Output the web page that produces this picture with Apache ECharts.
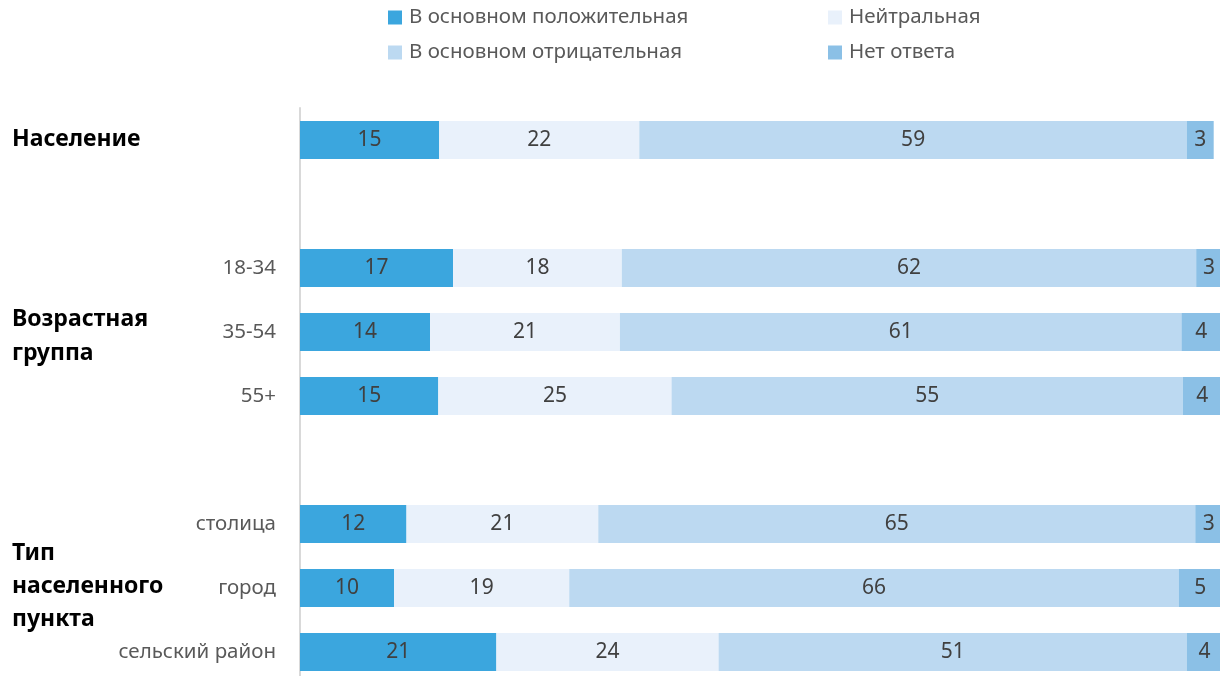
<!DOCTYPE html>
<html>
<head>
<meta charset="utf-8">
<script src="https://cdn.jsdelivr.net/npm/echarts@6/dist/echarts.min.js"></script>
<style>
  html, body { margin: 0; padding: 0; background: #fff; }
  #chart { width: 1220px; height: 676px; }
</style>
</head>
<body>
<div id="chart"></div>
<script>
// строки графика (пустые строки - разделители групп)
const rows = ['Население', ' ', '18-34', '35-54', '55+', '  ', 'столица', 'город', 'сельский район'];
const seriesNames = ['В основном положительная', 'Нейтральная', 'В основном отрицательная', 'Нет ответа'];

// значения в %, оценены по длине полос
const positive = [15.1, null, 16.6, 14.1, 15.0, null, 11.55, 10.2, 21.3];
const neutral  = [21.7, null, 18.3, 20.6, 25.3, null, 20.8, 19.0, 24.1];
const negative = [59.4, null, 62.3, 60.9, 55.45, null, 64.75, 66.1, 50.8];
const noAnswer = [2.9, null, 2.8, 4.3, 4.2, null, 3.0, 4.8, 3.9];

const colors = ['#3ba6de', '#e9f1fb', '#bcd9f1', '#8bc0e6'];

const chart = echarts.init(document.getElementById('chart'));
const font = '"Noto Sans", sans-serif';

const makeSeries = (name, data, i) => ({
  name: name,
  type: 'bar',
  stack: 'total',
  barWidth: 38,
  data: data,
  itemStyle: { color: colors[i] },
  label: {
    show: true,
    position: 'inside',
    color: '#404040',
    fontSize: 21,
    fontFamily: font,
    formatter: p => Math.round(p.value)
  },
  emphasis: { disabled: true }
});

const legendStyle = {
  orient: 'vertical',
  top: 7,
  padding: 0,
  itemGap: 14,
  itemWidth: 14,
  itemHeight: 14,
  icon: 'rect',
  textStyle: { color: '#595959', fontSize: 20.5, fontFamily: font, lineHeight: 21, padding: [0, 0, 0, 2] }
};

const option = {
  animation: false,
  legend: [
    Object.assign({ data: [seriesNames[0], seriesNames[2]], left: 388 }, legendStyle),
    Object.assign({ data: [seriesNames[1], seriesNames[3]], left: 828 }, legendStyle)
  ],
  grid: { left: 300, top: 108, width: 922, height: 576, outerBoundsMode: 'none' },
  xAxis: {
    type: 'value',
    min: 0,
    max: 100,
    show: false
  },
  yAxis: {
    type: 'category',
    inverse: true,
    data: rows,
    axisLine: { show: true, lineStyle: { color: '#d9d9d9', width: 2 } },
    axisTick: { show: false },
    axisLabel: {
      color: '#595959',
      fontSize: 20.5,
      fontFamily: font,
      margin: 24,
      formatter: v => (v === 'Население' ? '' : v)
    }
  },
  // подписи групп слева
  graphic: [
    {
      type: 'text', left: 12, top: 122,
      style: { text: 'Население', font: 'bold 23px "Noto Sans", sans-serif', fill: '#000', lineHeight: 34 }
    },
    {
      type: 'text', left: 12, top: 302,
      style: { text: 'Возрастная\nгруппа', font: 'bold 23px "Noto Sans", sans-serif', fill: '#000', lineHeight: 34 }
    },
    {
      type: 'text', left: 12, top: 537,
      style: { text: 'Тип\nнаселенного\nпункта', font: 'bold 23px "Noto Sans", sans-serif', fill: '#000', lineHeight: 33 }
    }
  ],
  series: [
    makeSeries(seriesNames[0], positive, 0),
    makeSeries(seriesNames[1], neutral, 1),
    makeSeries(seriesNames[2], negative, 2),
    makeSeries(seriesNames[3], noAnswer, 3)
  ]
};

chart.setOption(option);
</script>
</body>
</html>
